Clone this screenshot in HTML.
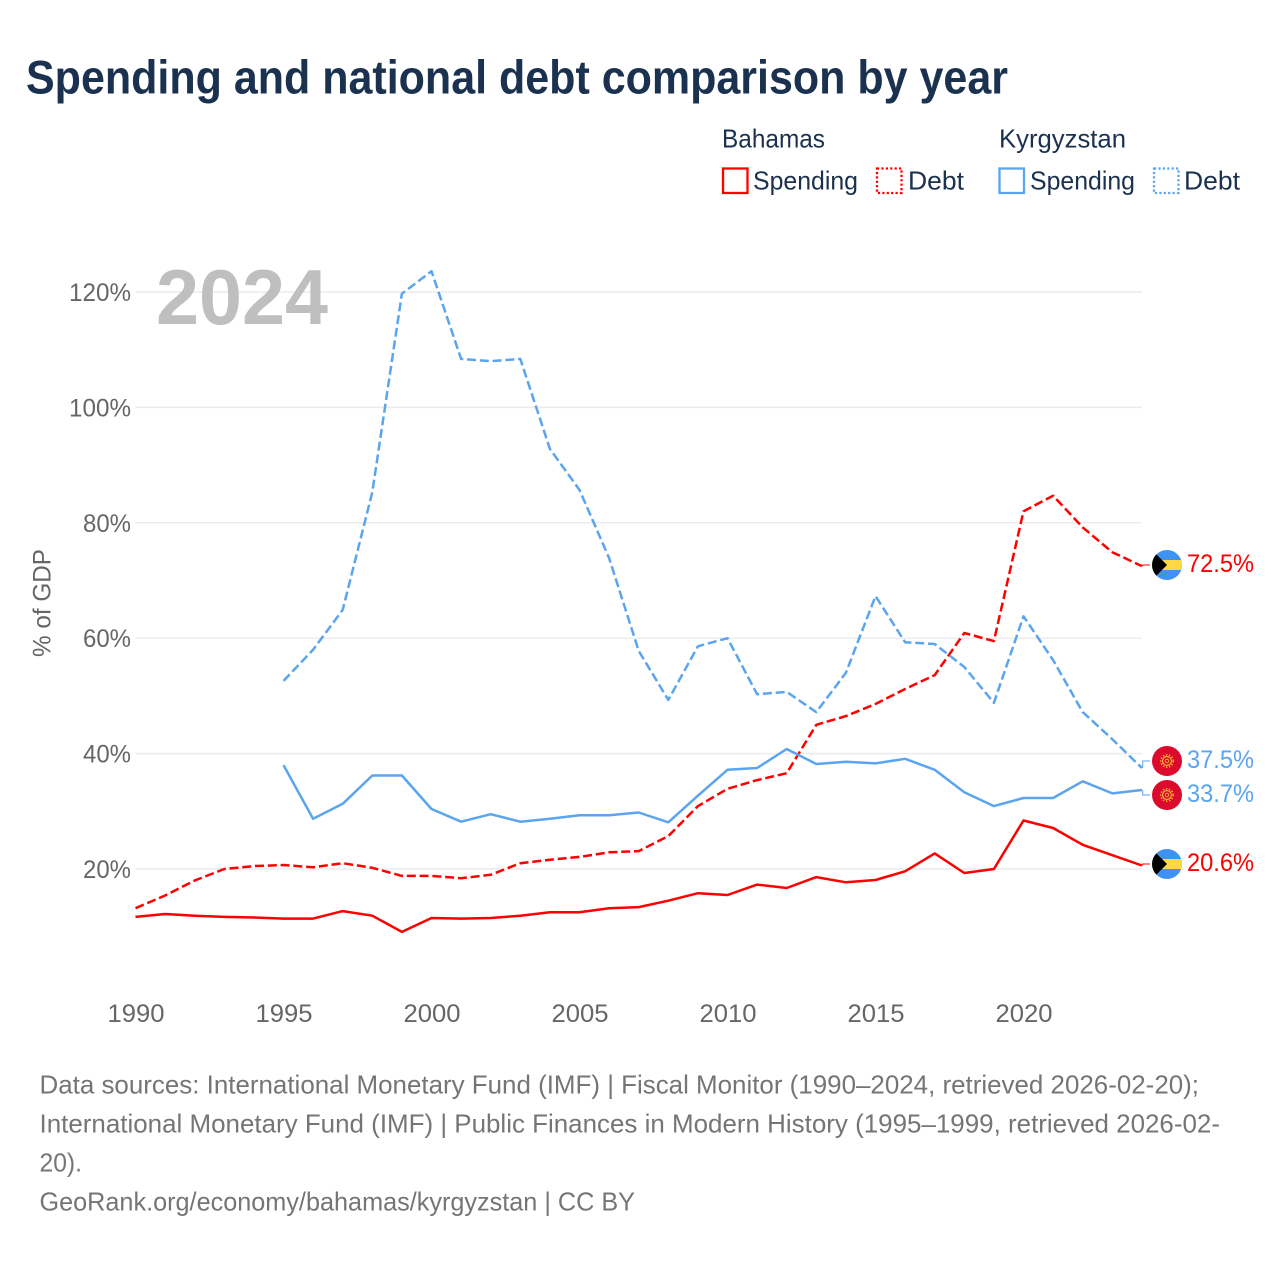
<!DOCTYPE html>
<html lang="en">
<head>
<meta charset="utf-8">
<title>Spending and national debt comparison by year</title>
<style>
html,body{margin:0;padding:0;background:#fff;width:1280px;height:1280px;overflow:hidden}
svg{display:block;font-family:"Liberation Sans",sans-serif}
</style>
</head>
<body>
<svg id="chart" xmlns="http://www.w3.org/2000/svg" width="1280" height="1280" viewBox="0 0 1280 1280">
  <rect x="0" y="0" width="1280" height="1280" fill="#fff"/>
  <text x="26" y="93.5" font-size="47" font-weight="700" fill="#1a3150" textLength="982" lengthAdjust="spacingAndGlyphs">Spending and national debt comparison by year</text>

  <g font-size="26" fill="#1a3150">
    <text x="722" y="147.5" textLength="103" lengthAdjust="spacingAndGlyphs">Bahamas</text>
    <text x="999" y="147.5" textLength="127" lengthAdjust="spacingAndGlyphs">Kyrgyzstan</text>
    <rect x="723" y="168.5" width="24.5" height="24.5" fill="none" stroke="#ff0000" stroke-width="2.3"/>
    <text x="753" y="189.5" textLength="105" lengthAdjust="spacingAndGlyphs">Spending</text>
    <rect x="877" y="168.5" width="24.5" height="24.5" fill="none" stroke="#ff0000" stroke-width="2.3" stroke-dasharray="2.2 2.2"/>
    <text x="908" y="189.5" textLength="56" lengthAdjust="spacingAndGlyphs">Debt</text>
    <rect x="999.5" y="168.5" width="24.5" height="24.5" fill="none" stroke="#5ba4ee" stroke-width="2.3"/>
    <text x="1030" y="189.5" textLength="105" lengthAdjust="spacingAndGlyphs">Spending</text>
    <rect x="1154" y="168.5" width="24.5" height="24.5" fill="none" stroke="#5ba4ee" stroke-width="2.3" stroke-dasharray="2.2 2.2"/>
    <text x="1184" y="189.5" textLength="56" lengthAdjust="spacingAndGlyphs">Debt</text>
  </g>

  <g id="grid"></g>
  <text x="156" y="324" font-size="78" font-weight="700" fill="#bfbfbf" textLength="172" lengthAdjust="spacingAndGlyphs">2024</text>
  <g id="yticks" font-size="25" fill="#666666" text-anchor="end"></g>
  <g id="xticks" font-size="25" fill="#666666" text-anchor="middle"></g>
  <text transform="translate(50.5,603) rotate(-90)" font-size="25" fill="#666666" text-anchor="middle" textLength="108" lengthAdjust="spacingAndGlyphs">% of GDP</text>

  <g id="lines" fill="none" stroke-width="2.5" stroke-linejoin="round"></g>
  <g id="connectors" fill="none" stroke-width="1"></g>

  <defs>
    <clipPath id="flag-clip"><circle cx="0" cy="0" r="15"/></clipPath>
    <g id="flag-bs">
      <g clip-path="url(#flag-clip)">
        <rect x="-15" y="-15" width="30" height="30" fill="#3d92f2"/>
        <rect x="-15" y="-5" width="30" height="10" fill="#ffd644"/>
        <polygon points="-15,-15 0,0 -15,15" fill="#000"/>
      </g>
    </g>
    <g id="flag-kg">
      <circle cx="0" cy="0" r="15" fill="#dc0a2d"/>
      <circle cx="0" cy="0" r="4.4" fill="none" stroke="#f2c72e" stroke-width="1.1"/>
      <circle cx="0" cy="0" r="1.8" fill="none" stroke="#f2c72e" stroke-width="0.8"/>
      <circle cx="0" cy="0" r="6.2" fill="none" stroke="#f2c72e" stroke-width="1.4" stroke-dasharray="1.4 1.7"/>
    </g>
  </defs>

  <g>
    <use href="#flag-bs" x="1167" y="565"/>
  </g>
  <g>
    <use href="#flag-kg" x="1167" y="761"/>
  </g>
  <g>
    <use href="#flag-kg" x="1167" y="795"/>
  </g>
  <g>
    <use href="#flag-bs" x="1167" y="864"/>
  </g>
  <g id="endlabels" font-size="25"></g>

  <g font-size="26" fill="#757575">
    <text x="39.5" y="1093.5" textLength="1159.5" lengthAdjust="spacingAndGlyphs">Data sources: International Monetary Fund (IMF) | Fiscal Monitor (1990–2024, retrieved 2026-02-20);</text>
    <text x="39.5" y="1132.5" textLength="1180.5" lengthAdjust="spacingAndGlyphs">International Monetary Fund (IMF) | Public Finances in Modern History (1995–1999, retrieved 2026-02-</text>
    <text x="39.5" y="1171.5" textLength="42.5" lengthAdjust="spacingAndGlyphs">20).</text>
    <text x="39.5" y="1210.5" textLength="595.5" lengthAdjust="spacingAndGlyphs">GeoRank.org/economy/bahamas/kyrgyzstan | CC BY</text>
  </g>
</svg>
<script>
const xTickYears = [1990, 1995, 2000, 2005, 2010, 2015, 2020];
const yTickValues = [20, 40, 60, 80, 100, 120];
const bahamasStartYear = 1990;
const kyrgyzstanStartYear = 1995;
const bahamasSpending = [11.7, 12.2, 11.9, 11.7, 11.6, 11.4, 11.4, 12.7, 11.9, 9.1, 11.5, 11.4, 11.5, 11.9, 12.5, 12.5, 13.2, 13.4, 14.5, 15.8, 15.5, 17.3, 16.7, 18.6, 17.7, 18.1, 19.6, 22.7, 19.3, 20.0, 28.4, 27.1, 24.2, 22.4, 20.6];
const bahamasDebt = [13.2, 15.4, 18.0, 20.0, 20.5, 20.7, 20.3, 21.0, 20.2, 18.8, 18.8, 18.4, 19.0, 21.0, 21.6, 22.1, 22.9, 23.1, 25.7, 30.9, 33.9, 35.4, 36.6, 45.0, 46.5, 48.6, 51.2, 53.6, 60.9, 59.5, 82.0, 84.7, 79.2, 74.9, 72.5];
const kyrgyzstanSpending = [38.0, 28.7, 31.3, 36.2, 36.2, 30.4, 28.2, 29.5, 28.2, 28.7, 29.3, 29.3, 29.8, 28.1, 32.7, 37.2, 37.5, 40.8, 38.2, 38.6, 38.3, 39.1, 37.2, 33.3, 30.9, 32.3, 32.3, 35.2, 33.1, 33.7];
const kyrgyzstanDebt = [52.6, 58.0, 64.9, 85.3, 119.7, 123.6, 108.4, 108.0, 108.4, 92.8, 85.7, 73.9, 57.8, 49.3, 58.6, 60.0, 50.3, 50.7, 47.2, 54.0, 67.3, 59.3, 59.0, 55.0, 48.8, 63.8, 56.2, 47.2, 42.5, 37.5];

const NS = 'http://www.w3.org/2000/svg';
function xScale(year) { return 135.5 + (year - 1990) * 29.6; }
function yScale(pct) { return 869 - (pct - 20) * 5.77; }
function make(tag, parent) {
  const el = document.createElementNS(NS, tag);
  parent.appendChild(el);
  return el;
}
function linePoints(values, startYear) {
  return values.map((v, i) => xScale(startYear + i).toFixed(1) + ',' + yScale(v).toFixed(1)).join(' ');
}

const gridGroup = document.getElementById('grid');
const yTickGroup = document.getElementById('yticks');
yTickValues.forEach(v => {
  const g = make('line', gridGroup);
  
  
  g.setAttribute('x1', xScale(1990));
  g.setAttribute('x2', xScale(2024));
  g.setAttribute('y1', yScale(v));
  g.setAttribute('y2', yScale(v));
  g.setAttribute('stroke', '#ececec');
  g.setAttribute('stroke-width', '1.5');
  const t = make('text', yTickGroup);
  
  
  t.setAttribute('x', 131);
  t.setAttribute('y', yScale(v) + 9);
  t.setAttribute('textLength', v >= 100 ? '62' : '48');
  t.setAttribute('lengthAdjust', 'spacingAndGlyphs');
  t.textContent = v + '%';
});

const xTickGroup = document.getElementById('xticks');
xTickYears.forEach(y => {
  const t = make('text', xTickGroup);
  
  
  t.setAttribute('x', xScale(y) + 0.5);
  t.setAttribute('y', 1022);
  t.setAttribute('textLength', '57');
  t.setAttribute('lengthAdjust', 'spacingAndGlyphs');
  t.textContent = y;
});

const lineGroup = document.getElementById('lines');

const lineBahamasSpending = make('polyline', lineGroup);


lineBahamasSpending.setAttribute('points', linePoints(bahamasSpending, bahamasStartYear));
lineBahamasSpending.setAttribute('stroke', '#ff0000');

const lineBahamasDebt = make('polyline', lineGroup);


lineBahamasDebt.setAttribute('points', linePoints(bahamasDebt, bahamasStartYear));
lineBahamasDebt.setAttribute('stroke', '#ff0000');
lineBahamasDebt.setAttribute('stroke-dasharray', '9 3.8');

const lineKyrgyzstanSpending = make('polyline', lineGroup);


lineKyrgyzstanSpending.setAttribute('points', linePoints(kyrgyzstanSpending, kyrgyzstanStartYear));
lineKyrgyzstanSpending.setAttribute('stroke', '#5ba4ee');

const lineKyrgyzstanDebt = make('polyline', lineGroup);


lineKyrgyzstanDebt.setAttribute('points', linePoints(kyrgyzstanDebt, kyrgyzstanStartYear));
lineKyrgyzstanDebt.setAttribute('stroke', '#5ba4ee');
lineKyrgyzstanDebt.setAttribute('stroke-dasharray', '9 3.8');

const connectorGroup = document.getElementById('connectors');
const labelGroup = document.getElementById('endlabels');
function addEnd(values, flagY, color) {
  const last = values[values.length - 1];
  const endY = yScale(last);
  const c = make('path', connectorGroup);
  
  
  c.setAttribute('d', 'M' + (xScale(2024) + 0.8) + ' ' + endY + ' V' + flagY + ' H1150');
  c.setAttribute('stroke', color);
  const t = make('text', labelGroup);
  
  
  t.setAttribute('x', 1187);
  t.setAttribute('y', flagY + 7);
  t.setAttribute('fill', color);
  t.setAttribute('textLength', '67');
  t.setAttribute('lengthAdjust', 'spacingAndGlyphs');
  t.textContent = last.toFixed(1) + '%';
}
addEnd(bahamasDebt, 565, '#ff0000');
addEnd(kyrgyzstanDebt, 761, '#5ba4ee');
addEnd(kyrgyzstanSpending, 795, '#5ba4ee');
addEnd(bahamasSpending, 864, '#ff0000');
</script>
</body>
</html>
